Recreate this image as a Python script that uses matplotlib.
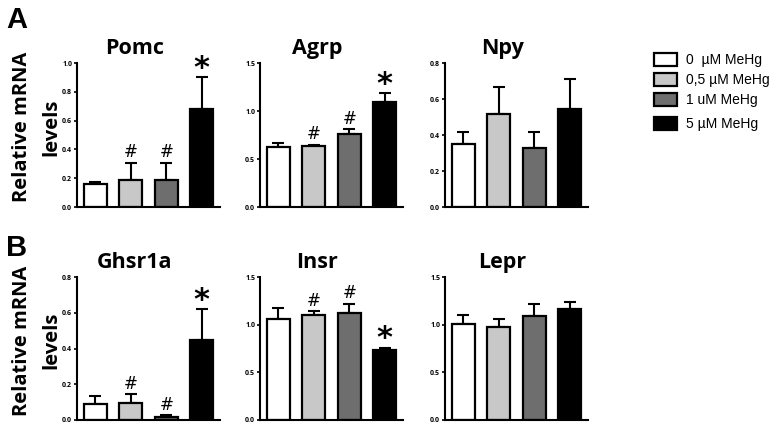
import matplotlib
matplotlib.use('Agg')
import matplotlib.pyplot as plt
from matplotlib.patches import Rectangle
from matplotlib.ticker import FormatStrFormatter

# data
genes = ['Pomc', 'Agrp', 'Npy', 'Ghsr1a', 'Insr', 'Lepr']
groups = ['0  \u00b5M MeHg', '0,5 \u00b5M MeHg', '1 uM MeHg', '5 \u00b5M MeHg']
means = {
    'Pomc':   [0.163, 0.186, 0.186, 0.68],
    'Agrp':   [0.62, 0.636, 0.76, 1.095],
    'Npy':    [0.348, 0.518, 0.33, 0.546],
    'Ghsr1a': [0.088, 0.097, 0.019, 0.45],
    'Insr':   [1.063, 1.098, 1.125, 0.732],
    'Lepr':   [1.01, 0.976, 1.09, 1.16],
}
sems = {
    'Pomc':   [0.011, 0.12, 0.12, 0.22],
    'Agrp':   [0.045, 0.011, 0.053, 0.095],
    'Npy':    [0.066, 0.15, 0.084, 0.166],
    'Ghsr1a': [0.046, 0.048, 0.009, 0.17],
    'Insr':   [0.111, 0.045, 0.095, 0.028],
    'Lepr':   [0.088, 0.08, 0.13, 0.077],
}
ymax = {'Pomc': 1.0, 'Agrp': 1.5, 'Npy': 0.8, 'Ghsr1a': 0.8, 'Insr': 1.5, 'Lepr': 1.5}
yticks = {
    'Pomc': [0.0, 0.2, 0.4, 0.6, 0.8, 1.0],
    'Agrp': [0.0, 0.5, 1.0, 1.5],
    'Npy': [0.0, 0.2, 0.4, 0.6, 0.8],
    'Ghsr1a': [0.0, 0.2, 0.4, 0.6, 0.8],
    'Insr': [0.0, 0.5, 1.0, 1.5],
    'Lepr': [0.0, 0.5, 1.0, 1.5],
}
marks = {
    'Pomc':   ['', '#', '#', '*'],
    'Agrp':   ['', '#', '#', '*'],
    'Npy':    ['', '', '', ''],
    'Ghsr1a': ['', '#', '#', '*'],
    'Insr':   ['', '#', '#', '*'],
    'Lepr':   ['', '', '', ''],
}
colors = ['#ffffff', '#c8c8c8', '#6e6e6e', '#000000']

W, H = 780, 428
fig = plt.figure(figsize=(7.8, 4.28), dpi=100)
plt.rcParams['font.family'] = ['Open Sans', 'DejaVu Sans']

col_x = [77, 260, 445]
row_y = [(63, 207), (277, 420)]
ax_w = 143

for i, g in enumerate(genes):
    r, c = divmod(i, 3)
    top, bot = row_y[r]
    ax = fig.add_axes([col_x[c] / W, 1 - bot / H, ax_w / W, (bot - top) / H])
    x = list(range(4))
    ax.bar(x, means[g], width=0.66, color=colors, edgecolor='black', linewidth=1.6, zorder=2)
    ax.errorbar(x, means[g], yerr=[[0] * 4, sems[g]], fmt='none', ecolor='black',
                elinewidth=1.5, capsize=4, capthick=1.5, zorder=1)
    ax.set_xlim(-0.52, 3.52)
    ax.set_ylim(0, ymax[g])
    ax.set_yticks(yticks[g])
    ax.yaxis.set_major_formatter(FormatStrFormatter('%.1f'))
    ax.set_xticks([])
    for s in ['top', 'right']:
        ax.spines[s].set_visible(False)
    for s in ['left', 'bottom']:
        ax.spines[s].set_linewidth(1.5)
    ax.tick_params(axis='y', labelsize=5, length=2.5, width=1.2, pad=1)
    for lab in ax.get_yticklabels():
        lab.set_fontweight('bold')
    ax.text(0.4, 1.03, g, transform=ax.transAxes, ha='center', va='bottom',
            fontsize=15.5, fontweight='bold')
    for j, m in enumerate(marks[g]):
        if not m:
            continue
        yt = means[g][j] + sems[g][j]
        if m == '#':
            ax.text(j, yt + 0.01 * ymax[g], m, ha='center', va='bottom', fontsize=12,
                    family='DejaVu Sans', clip_on=False)
        else:
            ax.text(j, yt - 0.04 * ymax[g], m, ha='center', va='bottom', fontsize=22,
                    fontweight='bold', family='DejaVu Sans', clip_on=False)
    if c == 0:
        cy = 1 - ((top + bot) / 2 - 8) / H
        fig.text(22 / W, cy, 'Relative mRNA', rotation=90, ha='center', va='center',
                 fontsize=14.5, fontweight='bold')
        fig.text(51 / W, cy, 'levels', rotation=90, ha='center', va='center',
                 fontsize=14.5, fontweight='bold')

fig.text(6 / W, 1 - 20 / H, 'A', fontsize=21, fontweight='bold', va='center',
         family='Liberation Sans')
fig.text(6 / W, 1 - 248 / H, 'B', fontsize=21, fontweight='bold', va='center',
         family='Liberation Sans')

# legend
leg_y = [60, 80, 100, 124]
for k, (lab, col) in enumerate(zip(groups, colors)):
    yc = leg_y[k]
    fig.add_artist(Rectangle((654 / W, 1 - (yc + 6) / H), 23 / W, 13 / H,
                             transform=fig.transFigure, facecolor=col,
                             edgecolor='black', linewidth=1.6))
    fig.text(686 / W, 1 - yc / H, lab, fontsize=10, va='center',
             family='Liberation Sans')

fig.savefig('out.png', dpi=100)
